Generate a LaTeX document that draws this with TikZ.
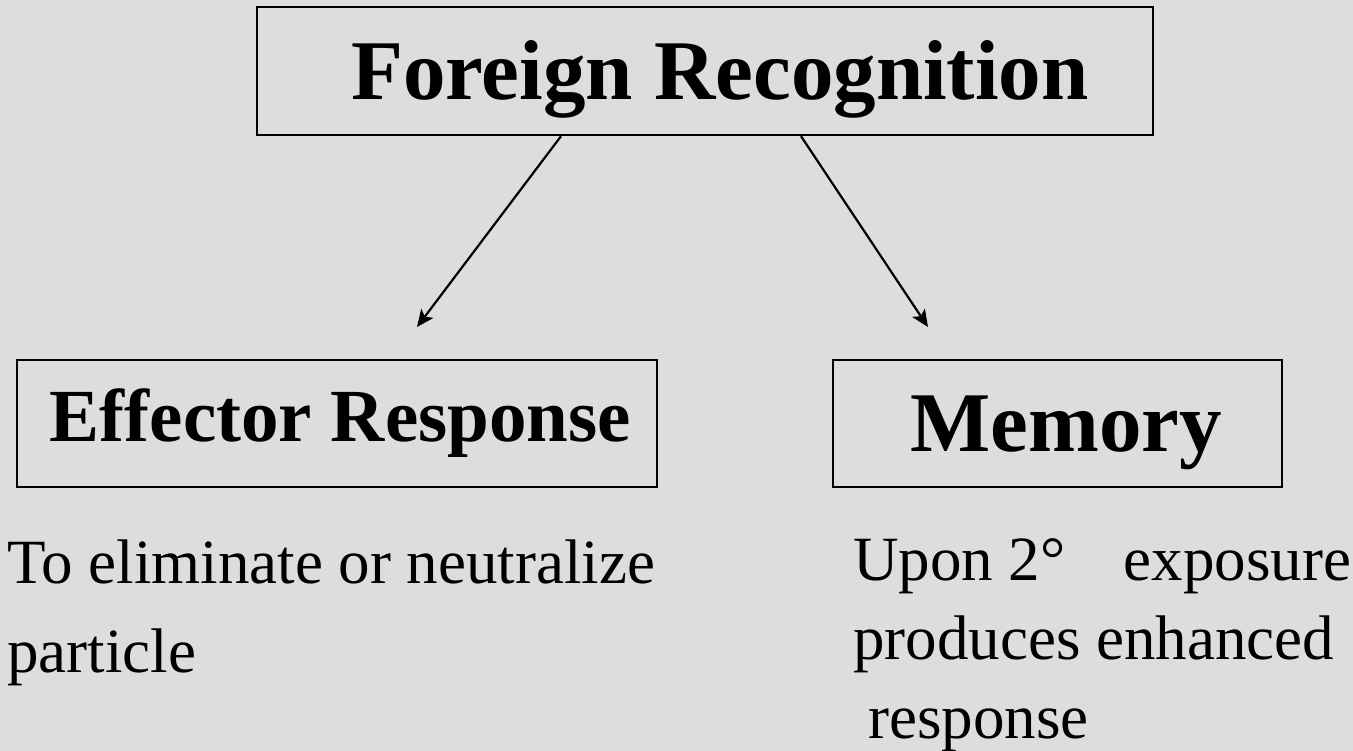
\documentclass[tikz,border=0pt]{standalone}
\usepackage{fontspec}
\setmainfont{Liberation Serif}
\usetikzlibrary{positioning,arrows.meta,calc}
\definecolor{ink}{HTML}{000000}
\definecolor{paper}{HTML}{DDDDDD}
\tikzset{
  box/.style={draw=ink, line width=2.4pt, inner sep=0pt, text=ink, text depth=0pt},
  txt/.style={anchor=base west, align=left, inner sep=0pt, text=ink},
  link/.style={-{Stealth[length=17pt,width=15pt,inset=4pt]}, draw=ink, line width=2.2pt},
}
\begin{document}
\begin{tikzpicture}[x=1pt,y=-1pt]
\fill[paper] (0,0) rectangle (1353,751);
\useasboundingbox (0,0) rectangle (1353,751);
\node[box, minimum width=896pt, minimum height=128pt, text height=58pt, font=\fontsize{85}{100}\selectfont\bfseries] (recog) at (705,71) {\hspace*{30pt}Foreign Recognition};
\node[box, minimum width=640pt, minimum height=127pt, text height=37pt, font=\fontsize{75}{90}\selectfont\bfseries] (effector) at (337,423.5) {\hspace*{7pt}Effector Response};
\node[box, minimum width=449pt, minimum height=127pt, text height=55pt, font=\fontsize{85}{100}\selectfont\bfseries] (memory) at (1057.5,423.5) {\hspace*{17pt}Memory};
\coordinate (effTip) at (417,327);
\coordinate (memTip) at (928,327);
\draw[link] ([xshift=-144pt]recog.south) -- (effTip);
\draw[link] ([xshift=96pt]recog.south) -- (memTip);
\node[txt, font=\fontsize{63}{89}\selectfont] (goal) at (7,672) {To eliminate or neutralize\\particle};
\node[txt, font=\fontsize{63}{79}\selectfont] (recall) at (853,738) {Upon 2°\hspace{58pt}exposure\\produces enhanced\\\hspace*{15pt}response};
\end{tikzpicture}
\end{document}
